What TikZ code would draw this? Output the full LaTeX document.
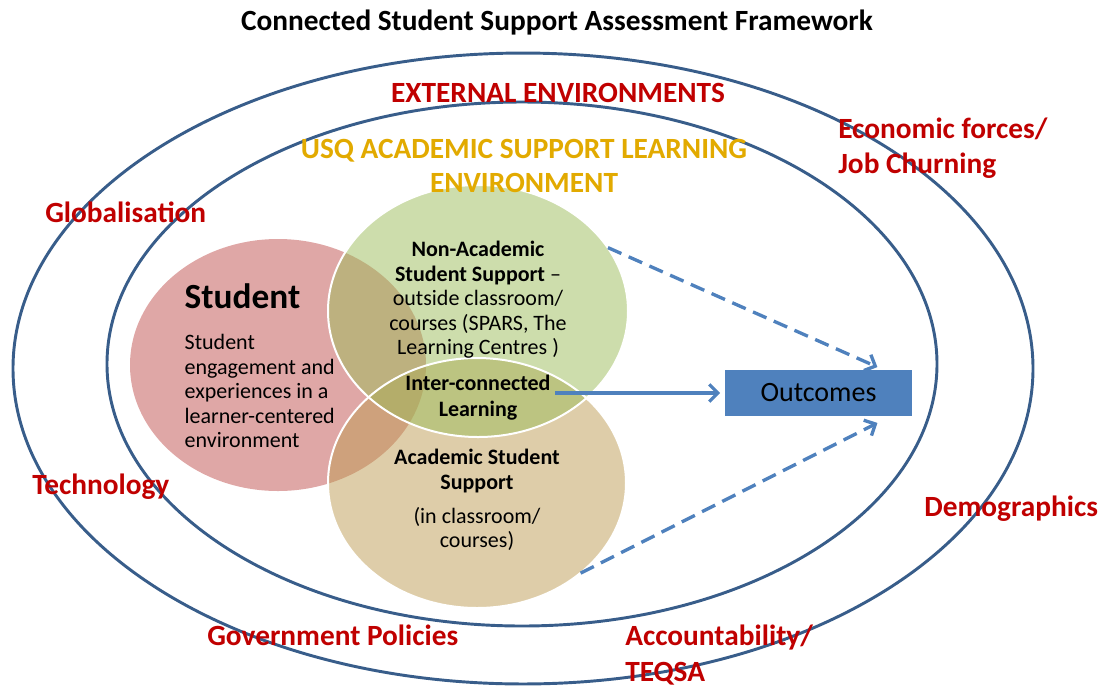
\documentclass[tikz,border=0pt]{standalone}
\usepackage{fontspec}
\setmainfont{Carlito}
\usetikzlibrary{shapes.geometric, arrows.meta}
\definecolor{ringblue}{RGB}{56,93,138}
\definecolor{arrowblue}{RGB}{79,129,189}
\definecolor{labelred}{RGB}{192,0,0}
\definecolor{usqgold}{RGB}{226,170,0}
\definecolor{studentred}{RGB}{192,80,77}
\definecolor{supportgreen}{RGB}{155,187,89}
\definecolor{supporttan}{RGB}{190,156,84}
\tikzset{>={Straight Barb[length=6.5pt,width=13pt]},
  ring/.style={draw=ringblue, line width=2.2pt},
  blob/.style={ellipse, inner sep=0pt, fill opacity=0.5},
  rim/.style={draw=white, line width=1.5pt},
  force/.style={text=labelred, font=\fontsize{22}{26.5}\selectfont\bfseries, align=left, inner sep=0pt},
  body/.style={font=\fontsize{16.5}{18.4}\selectfont, align=center},
  link/.style={->, draw=arrowblue, line width=2.5pt},
  maybe/.style={link, dash pattern=on 11pt off 6pt}}

\begin{document}
\begin{tikzpicture}[x=0.75pt, y=-0.75pt]
\useasboundingbox (0,0) rectangle (1104,687);
\node[font=\fontsize{22}{26}\selectfont\bfseries] (title) at (557,23) {Connected Student Support Assessment Framework};
\draw[ring] (523,368.5) ellipse [x radius=382.5pt, y radius=236.6pt];
\draw[ring] (522,364) ellipse [x radius=311.25pt, y radius=196.5pt];

\node[blob, fill=studentred, minimum width=222pt, minimum height=189pt] (student) at (278,365) {};
\node[blob, fill=supporttan, minimum width=223.5pt, minimum height=187.5pt] (acad) at (477,483) {};
\node[blob, fill=supportgreen, minimum width=225pt, minimum height=189pt] (nonacad) at (478,311) {};
\draw[rim] (nonacad.center) ellipse [x radius=112.5pt, y radius=94.5pt];
\draw[rim] (acad.center) ellipse [x radius=111.75pt, y radius=93.75pt];

\node[anchor=west, font=\fontsize{26.5}{30}\selectfont\bfseries] (studenthead) at (180,296) {Student};
\node[anchor=west, body, align=left] (studenttext) at (180,391) {Student\\engagement and\\experiences in a\\learner-centered\\environment};
\node[body] (nonacadtext) at (478,300) {\textbf{Non-Academic}\\\textbf{Student Support} --\\outside classroom/\\courses (SPARS, The\\Learning Centres )};
\node[body, font=\fontsize{16.5}{19.5}\selectfont\bfseries] (inter) at (478,398) {Inter-connected\\Learning};
\node[body] (acadtext) at (477,500) {\textbf{Academic Student}\\\textbf{Support}\\[7pt](in classroom/\\courses)};

\node[fill=arrowblue, minimum width=140pt, minimum height=34.5pt, font=\fontsize{21}{24}\selectfont] (outcomes) at (818.5,393) {Outcomes};
\draw[link, shorten >=3.5pt] (inter.east |- outcomes.west) -- (outcomes.west);
\draw[maybe] (nonacad.26) -- ([xshift=-26pt, yshift=2pt]outcomes.north east);
\draw[maybe] (acad.-41) -- ([xshift=-26pt, yshift=-5pt]outcomes.south east);

\node[force, align=center] (ext) at (558,93) {EXTERNAL ENVIRONMENTS};
\node[force, text=usqgold, align=center, font=\fontsize{22}{25.5}\selectfont\bfseries] (usq) at (524,166) {USQ ACADEMIC SUPPORT LEARNING\\ENVIRONMENT};
\node[force, anchor=west] (econ) at (838,148) {Economic forces/\\Job Churning};
\node[force, anchor=west] (glob) at (45,212) {Globalisation};
\node[force, anchor=west] (tech) at (32,487) {Technology};
\node[force, anchor=west] (demo) at (924,509) {Demographics};
\node[force, anchor=west] (gov) at (207,635) {Government Policies};
\node[force, anchor=west] (acc) at (625,655) {Accountability/\\TEQSA};
\end{tikzpicture}
\end{document}
